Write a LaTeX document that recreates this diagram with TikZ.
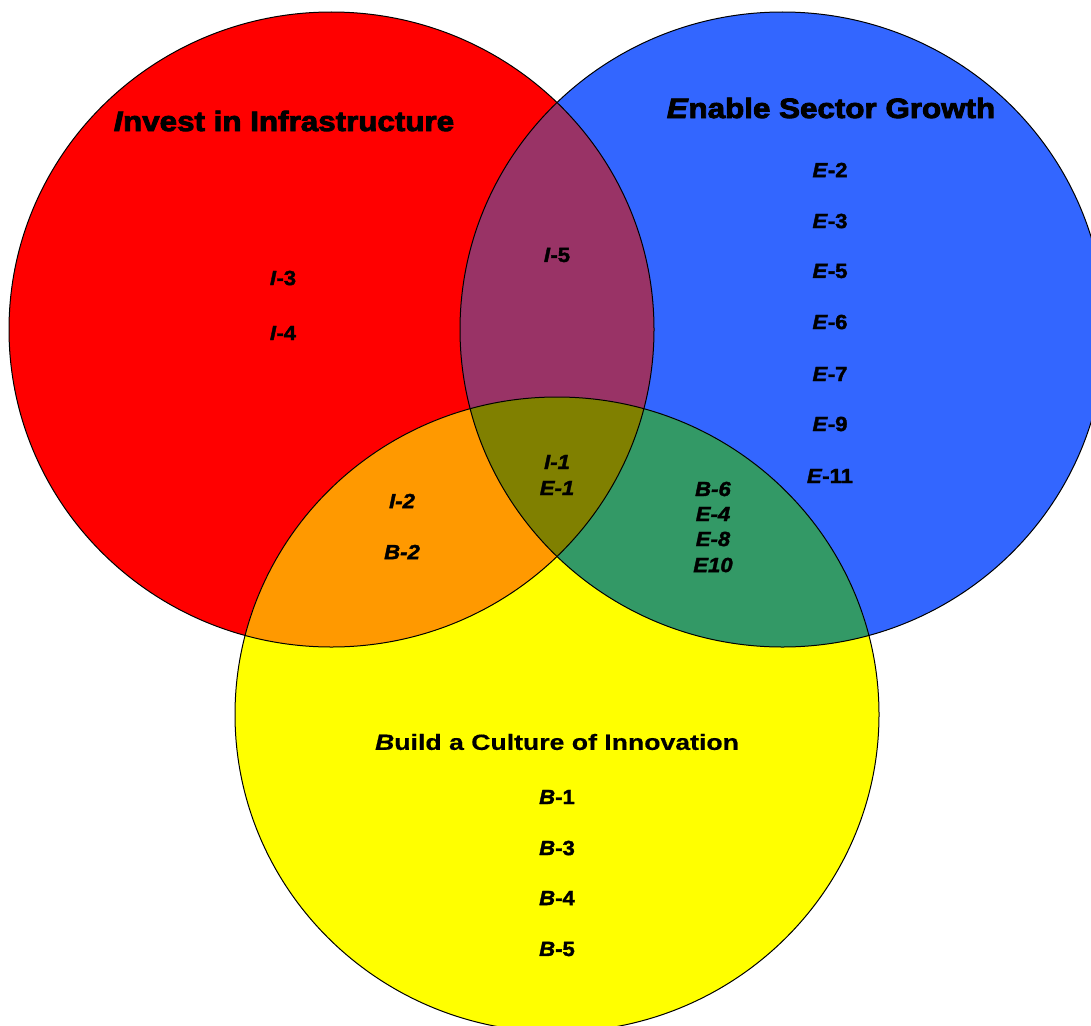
\documentclass[tikz,border=0pt]{standalone}
\usepackage{fontspec}
\setmainfont{Liberation Sans}
\newfontfamily\heavyF{Liberation Sans}[FakeStretch=1.12, FakeBold=3.2]
\newfontfamily\buildF{Liberation Sans}[FakeStretch=1.21, FakeBold=0.4]
\newfontfamily\labF{Liberation Sans}[FakeStretch=1.08, FakeBold=1.8]
\definecolor{cR}{HTML}{FF0000}
\definecolor{cB}{HTML}{3366FF}
\definecolor{cY}{HTML}{FFFF00}
\definecolor{cP}{HTML}{993366}
\definecolor{cO}{HTML}{FF9900}
\definecolor{cG}{HTML}{339966}
\definecolor{cV}{HTML}{808000}
\begin{document}
\begin{tikzpicture}[x=1pt,y=-1pt,
  lab/.style={font=\fontsize{20.5}{24}\selectfont\labF\bfseries, inner sep=0pt},
  htitle/.style={font=\fontsize{28}{32}\selectfont\heavyF\bfseries, inner sep=0pt},
  btitle/.style={font=\fontsize{22}{26}\selectfont\buildF\bfseries, inner sep=0pt},
  rim/.style={draw=black, line width=1pt}]
\useasboundingbox (0,0) rectangle (1091,1025);
\clip (0,0) rectangle (1091,1025);
\def\RR{(331.5,329.5) ellipse [x radius=322.5pt, y radius=317.5pt]}
\def\BB{(782.5,329.5) ellipse [x radius=322.5pt, y radius=317.5pt]}
\def\YY{(557,714.5) ellipse [x radius=322pt, y radius=317.5pt]}
\fill[cR] \RR;
\fill[cB] \BB;
\fill[cY] \YY;
\begin{scope}\clip \RR; \fill[cP] \BB; \end{scope}
\begin{scope}\clip \RR; \fill[cO] \YY; \end{scope}
\begin{scope}\clip \BB; \fill[cG] \YY; \end{scope}
\begin{scope}\clip \RR; \clip \BB; \fill[cV] \YY; \end{scope}
\draw[rim] \RR;
\draw[rim] \BB;
\draw[rim] \YY;
% titles
\node[htitle] (tI) at (284,121) {\textit{I}nvest in Infrastructure};
\node[htitle] (tE) at (831,108) {\textit{E}nable Sector Growth};
\node[btitle] (tB) at (557,742) {\textit{B}uild a Culture of Innovation};
% red only
\node[lab] (i3) at (283,278) {\textit{I}-3};
\node[lab] (i4) at (283,333) {\textit{I}-4};
% red-blue
\node[lab] (i5) at (557,255) {\textit{I}-5};
% blue only
\node[lab] (e2) at (830,170) {\textit{E}-2};
\node[lab] (e3) at (830,221) {\textit{E}-3};
\node[lab] (e5) at (830,271) {\textit{E}-5};
\node[lab] (e6) at (830,322) {\textit{E}-6};
\node[lab] (e7) at (830,374) {\textit{E}-7};
\node[lab] (e9) at (830,424) {\textit{E}-9};
\node[lab] (e11) at (830,476) {\textit{E}-11};
% centre
\node[lab] (i1) at (557,462) {\textit{I-1}};
\node[lab] (e1) at (557,488) {\textit{E-1}};
% red-yellow
\node[lab] (i2) at (402,501) {\textit{I-2}};
\node[lab] (b2) at (402,552) {\textit{B-2}};
% blue-yellow
\node[lab] (b6) at (713,489) {\textit{B-6}};
\node[lab] (e4) at (713,514) {\textit{E-4}};
\node[lab] (e8) at (713,539) {\textit{E-8}};
\node[lab] (e10) at (713,565) {\textit{E10}};
% yellow only
\node[lab] (b1) at (557,797) {\textit{B}-1};
\node[lab] (b3) at (557,848) {\textit{B}-3};
\node[lab] (b4) at (557,898) {\textit{B}-4};
\node[lab] (b5) at (557,949) {\textit{B}-5};
\end{tikzpicture}
\end{document}
